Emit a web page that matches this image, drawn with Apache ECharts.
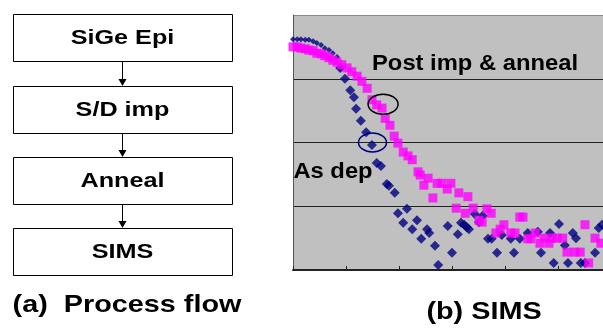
<!DOCTYPE html>
<html>
<head>
<meta charset="utf-8">
<script src="https://cdn.jsdelivr.net/npm/echarts@6/dist/echarts.min.js"></script>
<style>
  html, body { margin: 0; padding: 0; background: #fff; }
  #chart { width: 603px; height: 331px; }
</style>
</head>
<body>
<div id="chart"></div>
<script>
// process flow steps (left panel)
const flowSteps = ['SiGe Epi', 'S/D imp', 'Anneal', 'SIMS']

// SIMS profiles: [depth (nm), log10 concentration]
const asDep = [
  [0, 20.62], [0.8, 20.62], [1.5, 20.62], [2.3, 20.61], [3.0, 20.61], [3.8, 20.59],
  [4.5, 20.56], [5.3, 20.53], [6.0, 20.48], [6.8, 20.45], [7.5, 20.40], [8.3, 20.34],
  [8.9, 20.17], [9.8, 20.00], [10.8, 19.82], [11.5, 19.71], [11.9, 19.53], [12.8, 19.34],
  [13.8, 19.16], [14.9, 18.96], [15.8, 18.68], [16.6, 18.63], [17.7, 18.35], [18.1, 18.32],
  [19.2, 18.21], [19.8, 17.89], [21.5, 17.96], [20.8, 17.74], [22.5, 17.64], [23.4, 17.78],
  [24.2, 17.49], [25.3, 17.64], [25.7, 17.58], [26.8, 17.38], [27.4, 17.08], [29.2, 17.69],
  [30.0, 17.27], [31.1, 17.56], [31.7, 17.74], [32.3, 17.71], [32.8, 17.67], [33.2, 17.64],
  [34.3, 17.88], [35.1, 17.75], [35.8, 17.85], [36.8, 17.49], [37.5, 17.49], [38.5, 17.27],
  [39.4, 17.55], [41.1, 17.49], [41.7, 17.27], [42.8, 17.49], [44.3, 17.58], [46.2, 17.60],
  [46.8, 17.27], [48.5, 17.58], [49.2, 17.11], [50.2, 17.72], [51.3, 17.39], [51.9, 17.11],
  [52.8, 17.58], [53.4, 17.50], [54.3, 17.11], [55.1, 17.11], [57.0, 17.27], [57.7, 17.66],
  [58.3, 17.71]
]
const postAnneal = [
  [0, 20.50], [0.8, 20.50], [1.5, 20.48], [2.3, 20.47], [3.0, 20.45], [3.8, 20.44],
  [4.5, 20.40], [5.3, 20.39], [6.0, 20.36], [6.8, 20.33], [7.5, 20.29], [8.3, 20.26],
  [9.2, 20.22], [10.2, 20.17], [11.1, 20.11], [12.1, 20.04], [13.0, 19.96], [14.0, 19.85],
  [14.9, 19.67], [15.8, 19.59], [16.8, 19.54], [17.4, 19.38], [18.3, 19.27], [19.1, 19.10],
  [19.8, 18.99], [20.8, 18.85], [21.7, 18.79], [22.5, 18.73], [23.6, 18.54], [24.0, 18.49],
  [24.7, 18.33], [25.5, 18.44], [26.4, 18.13], [27.2, 18.36], [28.1, 18.36], [29.1, 18.27],
  [29.8, 18.36], [30.8, 17.97], [31.3, 18.21], [32.5, 17.89], [33.0, 18.15], [34.0, 17.97],
  [35.1, 17.78], [35.7, 17.75], [36.6, 17.96], [37.4, 17.89], [38.3, 17.58], [39.1, 17.64],
  [39.8, 17.71], [41.1, 17.58], [41.9, 17.58], [42.8, 17.83], [43.4, 17.83], [44.3, 17.49],
  [44.9, 17.49], [45.7, 17.58], [46.6, 17.42], [47.4, 17.50], [48.3, 17.42], [48.9, 17.50],
  [49.8, 17.50], [50.9, 17.50], [51.7, 17.28], [53.2, 17.28], [54.2, 17.28], [55.1, 17.71],
  [55.8, 17.11], [57.0, 17.50], [58.1, 17.42]
]

// callout circles around the marked points
const calloutPost = [17.0, 19.6]
const calloutDep = [15.0, 19.0]

const FONT = 'bold {s}px Arial, "Liberation Sans", sans-serif'
const font = (s) => FONT.replace('{s}', s)

const chart = echarts.init(document.getElementById('chart'))

chart.setOption({
  animation: false,
  backgroundColor: '#fff',
  grid: {
    left: 293, top: 15, right: 0, bottom: 61,
    show: true, backgroundColor: '#C0C0C0', borderWidth: 0,
  },
  xAxis: {
    type: 'value', min: 0, max: 58.5, interval: 10,
    axisLine: { lineStyle: { color: '#222', width: 2 } },
    axisTick: { inside: true, length: 4, lineStyle: { color: '#222' } },
    axisLabel: { show: false },
    splitLine: { show: false },
  },
  yAxis: {
    type: 'value', min: 17, max: 21, interval: 1,
    axisLine: { show: true, lineStyle: { color: '#555', width: 1 } },
    axisTick: { show: false },
    axisLabel: { show: false },
    splitLine: { lineStyle: { color: ['#222', '#222', '#222', '#222', '#888'], width: 1 } },
  },
  series: [
    {
      name: 'As dep', type: 'scatter', symbol: 'diamond',
      symbolSize: (v) => (v[1] > 20.3 ? 6 : 10),
      itemStyle: { color: '#000080' },
      data: asDep,
    },
    {
      name: 'Post imp & anneal', type: 'scatter', symbol: 'rect',
      symbolSize: 9,
      itemStyle: { color: '#FF00FF' },
      data: postAnneal,
    },
  ],
})

const boxX = 13, boxW = 219, boxH = 47
const boxTops = [14, 86, 157, 228]
const cx = boxX + boxW / 2

const graphics = []
flowSteps.forEach((name, i) => {
  graphics.push({
    type: 'rect', shape: { x: boxX + 0.5, y: boxTops[i] + 0.5, width: boxW, height: boxH },
    style: { fill: '#fff', stroke: '#000', lineWidth: 1 },
  })
  graphics.push({
    type: 'text', x: cx, y: boxTops[i] + boxH / 2 + 1, scaleX: 1.2,
    style: { text: name, font: font(21), fill: '#000', textAlign: 'center', textVerticalAlign: 'middle' },
  })
  if (i < flowSteps.length - 1) {
    const y0 = boxTops[i] + boxH + 1, y1 = boxTops[i + 1]
    graphics.push({
      type: 'line', shape: { x1: cx, y1: y0, x2: cx, y2: y1 - 5 },
      style: { stroke: '#000', lineWidth: 1 },
    })
    graphics.push({
      type: 'polygon', shape: { points: [[cx - 4, y1 - 7], [cx + 4, y1 - 7], [cx, y1]] },
      style: { fill: '#000' },
    })
  }
})

graphics.push({
  type: 'text', x: 127, y: 305, scaleX: 1.2,
  style: { text: '(a)  Process flow', font: font(24), fill: '#000', textAlign: 'center', textVerticalAlign: 'middle' },
})
graphics.push({
  type: 'text', x: 484, y: 312, scaleX: 1.2,
  style: { text: '(b) SIMS', font: font(24), fill: '#000', textAlign: 'center', textVerticalAlign: 'middle' },
})
graphics.push({
  type: 'text', x: 475, y: 64, scaleX: 1.08,
  style: { text: 'Post imp & anneal', font: font(22), fill: '#000', textAlign: 'center', textVerticalAlign: 'middle' },
})
graphics.push({
  type: 'text', x: 333, y: 172, scaleX: 1.08,
  style: { text: 'As dep', font: font(22), fill: '#000', textAlign: 'center', textVerticalAlign: 'middle' },
})

const p1 = chart.convertToPixel({ gridIndex: 0 }, calloutPost)
const p2 = chart.convertToPixel({ gridIndex: 0 }, calloutDep)
graphics.push({
  type: 'ellipse', shape: { cx: p1[0], cy: p1[1], rx: 15, ry: 10 },
  style: { fill: 'none', stroke: '#000', lineWidth: 1.5 }, z: 100,
})
graphics.push({
  type: 'ellipse', shape: { cx: p2[0], cy: p2[1], rx: 14, ry: 9.5 },
  style: { fill: 'none', stroke: '#000080', lineWidth: 1.5 }, z: 100,
})

chart.setOption({ graphic: graphics })
</script>
</body>
</html>
